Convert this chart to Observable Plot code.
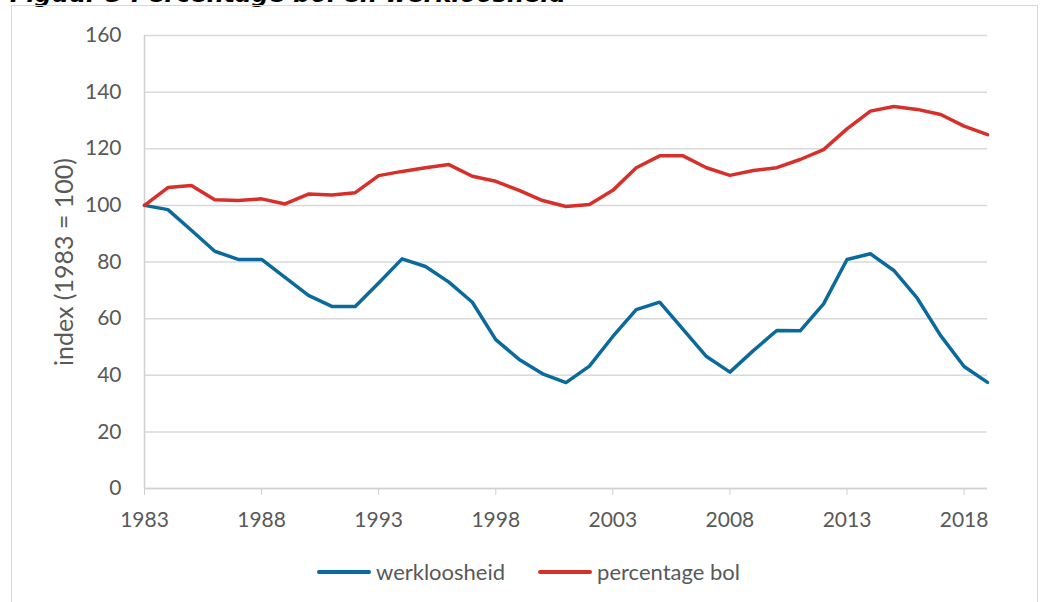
<!DOCTYPE html>
<html>
<head>
<meta charset="utf-8">
<script src="https://cdn.jsdelivr.net/npm/d3@7"></script>
<script src="https://cdn.jsdelivr.net/npm/@observablehq/plot@0.6"></script>
<style>
  html, body { margin: 0; padding: 0; background: #fff; }
  #wrap { position: relative; width: 1043px; height: 602px; overflow: hidden; font-family: Lato, "Liberation Sans", sans-serif; }
  #title { position: absolute; left: 10px; top: -20px; font-family: "DejaVu Sans", sans-serif; font-weight: bold; font-style: italic; font-size: 24px; color: #000; white-space: nowrap; }
  #frame { position: absolute; left: 11px; top: 5px; width: 1027px; height: 640px; border: 1.5px solid #d9d9d9; box-sizing: border-box; }
  #chart { position: absolute; left: 0; top: 0; }
  #legend { position: absolute; left: 317px; top: 558px; display: flex; align-items: center; font-size: 22px; color: #595959; font-family: Lato, "Liberation Sans", sans-serif; }
  .item { display: flex; align-items: center; margin-right: 33px; }
  .sw { width: 54px; height: 4px; border-radius: 2px; margin-right: 5px; }
</style>
</head>
<body>
<div id="wrap">
  <div id="title">Figuur 3 Percentage bol en werkloosheid</div>
  <div id="frame"></div>
  <div id="chart"></div>
  <div id="legend"></div>
</div>
<script>
const years = d3.range(1983, 2020);
const werkloosheid = [100, 98.5, 91.2, 83.8, 80.9, 80.9, 74.6, 68.2, 64.3, 64.3, 72.6, 81.1, 78.4, 72.9, 65.8, 52.6, 45.6, 40.5, 37.4, 43.2, 53.7, 63.2, 65.8, 56.2, 46.6, 41.1, 48.7, 55.8, 55.7, 65.2, 80.9, 82.9, 77.0, 67.2, 54.0, 43.1, 37.5];
const percentageBol = [100, 106.3, 107.0, 102.0, 101.7, 102.3, 100.5, 104.0, 103.7, 104.5, 110.5, 112.0, 113.3, 114.4, 110.3, 108.5, 105.3, 101.7, 99.6, 100.3, 105.3, 113.3, 117.5, 117.5, 113.3, 110.6, 112.3, 113.3, 116.2, 119.7, 127.0, 133.3, 134.9, 133.9, 132.1, 128.0, 125.0];
const seriesNames = ["werkloosheid", "percentage bol"];
const seriesColors = ["#0b6a9c", "#d7302a"];
const xTicks = [1983, 1988, 1993, 1998, 2003, 2008, 2013, 2018];
const yTicks = [0, 20, 40, 60, 80, 100, 120, 140, 160];
const yLabel = "index (1983 = 100)";

const data = [
  ...years.map((y, i) => ({year: y, value: werkloosheid[i], series: seriesNames[0]})),
  ...years.map((y, i) => ({year: y, value: percentageBol[i], series: seriesNames[1]}))
];

const chart = Plot.plot({
  width: 1043,
  height: 545,
  marginTop: 35,
  marginLeft: 144,
  marginRight: 56,
  marginBottom: 57,
  style: {fontFamily: "Lato, 'Liberation Sans', sans-serif", fontSize: "21px", color: "#595959", background: "transparent"},
  x: {domain: [1983, 2019]},
  y: {domain: [0, 160]},
  color: {domain: seriesNames, range: seriesColors},
  marks: [
    Plot.gridY(yTicks, {stroke: "#d9d9d9", strokeOpacity: 1, strokeWidth: 1.5}),
    Plot.ruleX([1983], {stroke: "#d0d0d0", strokeWidth: 1.5}),
    Plot.ruleY([0], {stroke: "#d0d0d0", strokeWidth: 1.5}),
    Plot.axisY(yTicks, {tickSize: 0, tickPadding: 23, label: null, fill: "#595959"}),
    Plot.axisX(xTicks, {tickSize: 7, tickPadding: 17, label: null, stroke: "#d0d0d0", fill: "#595959", tickFormat: d => String(d)}),
    Plot.text([yLabel], {frameAnchor: "left", textAnchor: "middle", rotate: -90, dx: -80, fill: "#595959", fontSize: 25}),
    Plot.line(data, {x: "year", y: "value", z: "series", stroke: "series", strokeWidth: 3.5, strokeLinejoin: "round", strokeLinecap: "round"})
  ]
});
document.getElementById("chart").appendChild(chart);

const legend = document.getElementById("legend");
seriesNames.forEach((name, i) => {
  const item = document.createElement("div");
  item.className = "item";
  const sw = document.createElement("div");
  sw.className = "sw";
  sw.style.background = seriesColors[i];
  const t = document.createElement("span");
  t.textContent = name;
  item.appendChild(sw);
  item.appendChild(t);
  legend.appendChild(item);
});
</script>
</body>
</html>
